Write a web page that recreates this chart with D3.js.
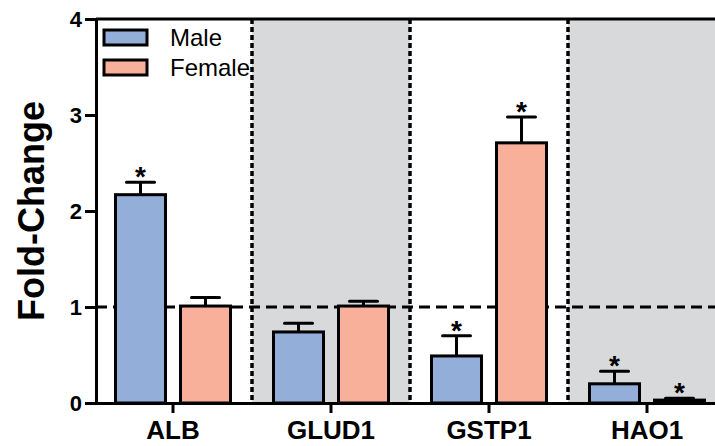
<!DOCTYPE html>
<html lang="en">
<head>
    <meta charset="UTF-8">
    <title>Fold-Change</title>
    <style>
        body {
            margin: 0;
            background: #ffffff;
            overflow: hidden;
        }
        svg text {
            font-family: Arial, "Liberation Sans", sans-serif;
        }
        .axis path, .axis line {
            stroke: #000;
            stroke-width: 3px;
        }
        .axis text {
            font-weight: bold;
            fill: #000;
        }
    </style>
</head>
<body>
    <svg id="chart" width="715" height="446"></svg>

    <script src="https://d3js.org/d3.v7.min.js"></script>
    <script>
        // data
        const genes = ["ALB", "GLUD1", "GSTP1", "HAO1"];
        const groups = ["Male", "Female"];
        const maleMean = [2.17, 0.74, 0.49, 0.20];
        const maleErr = [0.13, 0.09, 0.21, 0.13];
        const femaleMean = [1.01, 1.01, 2.71, 0.03];
        const femaleErr = [0.09, 0.05, 0.27, 0.02];
        const maleSig = [true, false, true, true];
        const femaleSig = [false, false, true, true];
        const shadedGenes = ["GLUD1", "HAO1"];
        const yTicks = [0, 1, 2, 3, 4];

        const colours = { Male: "#92aed9", Female: "#f8b09a" };

        const margin = { top: 19, right: 0, bottom: 43, left: 96 },
              width = 715 - margin.left - margin.right,
              height = 446 - margin.top - margin.bottom;

        const svg = d3.select("#chart");
        const g = svg.append("g")
            .attr("transform", `translate(${margin.left},${margin.top})`);

        const y = d3.scaleLinear().domain([0, 4]).range([height, 0]);

        // each gene gets a 158px slot, first centred at x=173
        const x = d3.scaleBand()
            .domain(genes)
            .range([-2, -2 + 158 * genes.length])
            .padding(0);

        const groupWidth = 115;
        const xSub = d3.scaleBand()
            .domain(groups)
            .range([0, groupWidth])
            .paddingInner(15 / 65);

        const rows = genes.map((gene, i) => ({
            gene: gene,
            bars: [
                { group: "Male", mean: maleMean[i], err: maleErr[i], sig: maleSig[i] },
                { group: "Female", mean: femaleMean[i], err: femaleErr[i], sig: femaleSig[i] }
            ]
        }));

        g.append("clipPath").attr("id", "plotClip")
            .append("rect").attr("x", 0).attr("y", 0).attr("width", width).attr("height", height);

        const plot = g.append("g").attr("clip-path", "url(#plotClip)");

        // grey background for alternate genes
        plot.selectAll(".shade")
            .data(shadedGenes)
            .enter().append("rect")
            .attr("class", "shade")
            .attr("x", d => x(d))
            .attr("y", 0)
            .attr("width", x.bandwidth())
            .attr("height", height)
            .style("fill", "#d8d9db");

        // dotted dividers between genes
        plot.selectAll(".divider")
            .data(genes.slice(1))
            .enter().append("line")
            .attr("class", "divider")
            .attr("x1", d => x(d))
            .attr("x2", d => x(d))
            .attr("y1", 0)
            .attr("y2", height)
            .style("stroke", "#000")
            .style("stroke-width", 3.5)
            .style("stroke-dasharray", "5,3");

        // reference line at 1
        plot.append("line")
            .attr("x1", 0)
            .attr("x2", width)
            .attr("y1", y(1))
            .attr("y2", y(1))
            .style("stroke", "#000")
            .style("stroke-width", 3)
            .style("stroke-dasharray", "11,6");

        const geneG = plot.selectAll(".gene")
            .data(rows)
            .enter().append("g")
            .attr("class", "gene")
            .attr("transform", d => `translate(${x(d.gene) + (x.bandwidth() - groupWidth) / 2},0)`);

        const bar = geneG.selectAll(".bar")
            .data(d => d.bars)
            .enter().append("g")
            .attr("class", "bar");

        // error bars (drawn first so the box sits on top)
        bar.append("line")
            .attr("x1", d => xSub(d.group) + xSub.bandwidth() / 2)
            .attr("x2", d => xSub(d.group) + xSub.bandwidth() / 2)
            .attr("y1", d => y(d.mean))
            .attr("y2", d => y(d.mean + d.err))
            .style("stroke", "#000")
            .style("stroke-width", 3);

        bar.append("line")
            .attr("x1", d => xSub(d.group) + xSub.bandwidth() / 2 - 14)
            .attr("x2", d => xSub(d.group) + xSub.bandwidth() / 2 + 14)
            .attr("y1", d => y(d.mean + d.err))
            .attr("y2", d => y(d.mean + d.err))
            .style("stroke", "#000")
            .style("stroke-width", 3)
            .style("stroke-linecap", "round");

        bar.append("rect")
            .attr("x", d => xSub(d.group))
            .attr("y", d => y(d.mean))
            .attr("width", xSub.bandwidth())
            .attr("height", d => height - y(d.mean))
            .style("fill", d => colours[d.group])
            .style("stroke", "#000")
            .style("stroke-width", 3);

        bar.filter(d => d.sig).append("text")
            .attr("x", d => xSub(d.group) + xSub.bandwidth() / 2)
            .attr("y", d => y(d.mean + d.err) + 4)
            .attr("text-anchor", "middle")
            .style("font-size", "28px")
            .style("font-weight", "bold")
            .text("*");

        // axes
        g.append("g")
            .attr("class", "axis y-axis")
            .call(d3.axisLeft(y).tickValues(yTicks).tickFormat(d3.format("d")).tickSize(11).tickPadding(3).tickSizeOuter(0))
            .selectAll("text")
            .style("font-size", "22px");

        g.append("g")
            .attr("class", "axis x-axis")
            .attr("transform", `translate(0,${height})`)
            .call(d3.axisBottom(x).tickSize(10).tickPadding(8).tickSizeOuter(0))
            .selectAll("text")
            .style("font-size", "26px");

        // top border
        g.append("line")
            .attr("x1", 0)
            .attr("x2", width)
            .attr("y1", 0)
            .attr("y2", 0)
            .style("stroke", "#000")
            .style("stroke-width", 3);

        // y label
        svg.append("text")
            .attr("transform", `translate(44,${margin.top + y(2.0)}) rotate(-90)`)
            .attr("text-anchor", "middle")
            .style("font-size", "36px")
            .style("font-weight", "bold")
            .text("Fold-Change");

        // legend
        const legend = g.append("g").attr("transform", "translate(8,11)");
        const item = legend.selectAll(".legend-item")
            .data(groups)
            .enter().append("g")
            .attr("class", "legend-item")
            .attr("transform", (d, i) => `translate(0,${i * 30})`);

        item.append("rect")
            .attr("width", 43)
            .attr("height", 15)
            .style("fill", d => colours[d])
            .style("stroke", "#000")
            .style("stroke-width", 3);

        item.append("text")
            .attr("x", 66)
            .attr("y", 16)
            .style("font-size", "24px")
            .text(d => d);
    </script>
</body>
</html>
